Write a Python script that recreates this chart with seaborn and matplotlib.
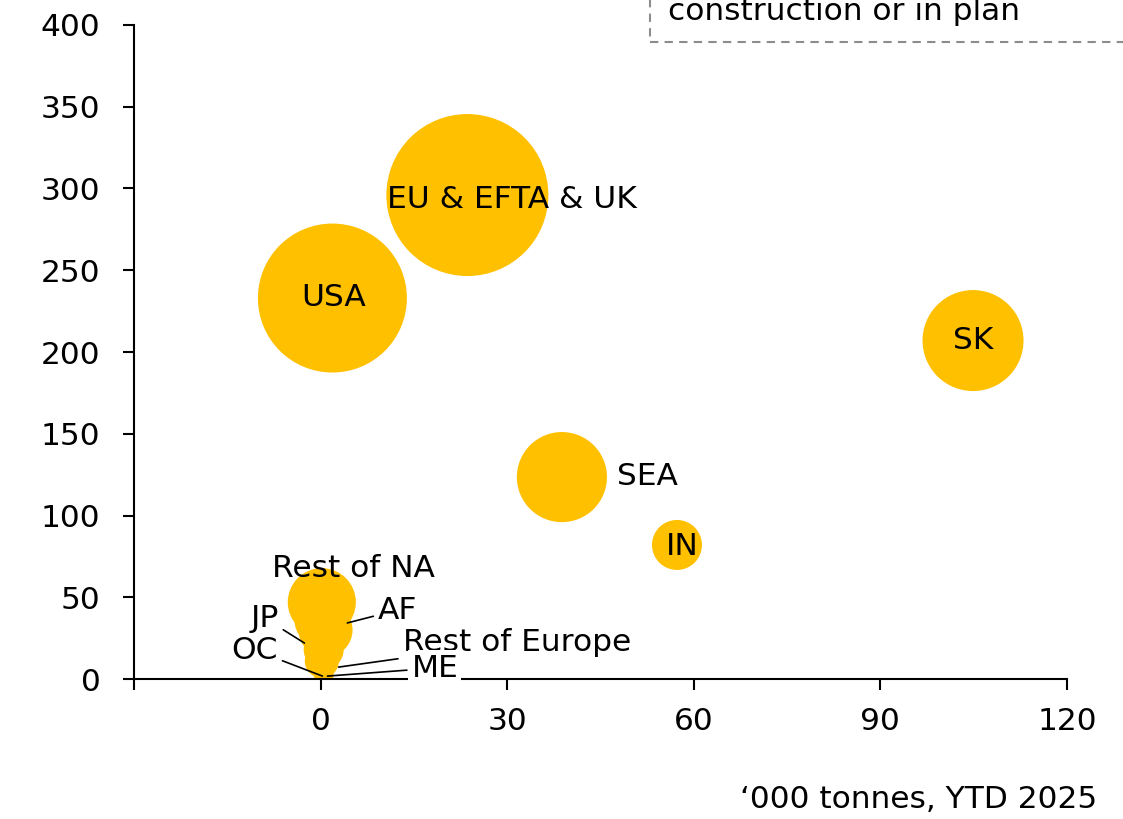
import pandas as pd
import matplotlib.pyplot as plt
from matplotlib.patches import Rectangle
import seaborn as sns

# bubble chart data: x = '000 tonnes YTD 2025, y = capacity, size = bubble weight
regions = ['EU & EFTA & UK', 'USA', 'SK', 'SEA', 'IN', 'Rest of NA',
           'JP', 'AF', 'Rest of Europe', 'OC', 'ME']
x_vals = [23.6, 1.9, 104.9, 38.8, 57.3, 0.2, 0.0, 0.8, 0.5, 0.2, 0.5]
y_vals = [296, 233, 207, 123.5, 82, 47, 36, 30, 18, 11, 3]
bubble = [65.6, 55.5, 25.5, 20.3, 6.25, 11.6, 6.8, 7.3, 4.0, 2.9, 1.0]

df = pd.DataFrame({'region': regions, 'x': x_vals, 'y': y_vals, 'size': bubble})

sns.set_style('ticks')
plt.rcParams['font.family'] = ['DejaVu Sans']
plt.rcParams['font.size'] = 22.5
plt.rcParams['text.color'] = 'black'
plt.rcParams['xtick.color'] = 'black'
plt.rcParams['ytick.color'] = 'black'

fig = plt.figure(figsize=(11.23, 8.19), dpi=100)
ax = fig.add_axes([0.1193, 0.1709, 0.8308, 0.7986])

smax = 207.36 * max(bubble)
sns.scatterplot(data=df, x='x', y='y', size='size', sizes=(0, smax),
                size_norm=(0, max(bubble)), color='#FFC000', edgecolor='none',
                alpha=1, legend=False, ax=ax, zorder=2)

ax.set_xlim(-30, 120)
ax.set_ylim(0, 400)
ax.set_xticks([-30, 0, 30, 60, 90, 120])
ax.set_xticklabels(['', '0', '30', '60', '90', '120'])
ax.set_yticks(range(0, 401, 50))
ax.set_xlabel('')
ax.set_ylabel('')
ax.tick_params(axis='both', labelsize=22.5, length=8, width=1.5, color='black',
               labelcolor='black')
ax.tick_params(axis='y', pad=16)
ax.tick_params(axis='x', pad=12)
for s in ['top', 'right']:
    ax.spines[s].set_visible(False)
for s in ['left', 'bottom']:
    ax.spines[s].set_linewidth(1.5)
    ax.spines[s].set_color('black')

# labels placed on / next to bubbles
ax.text(30.7, 293, 'EU & EFTA & UK', ha='center', va='center', zorder=3)
ax.text(2.1, 233.6, 'USA', ha='center', va='center', zorder=3)
ax.text(104.9, 207.3, 'SK', ha='center', va='center', zorder=3)
ax.text(47.6, 124, 'SEA', ha='left', va='center', zorder=3)
ax.text(58.2, 81.3, 'IN', ha='center', va='center', zorder=3)
ax.text(5.3, 67.9, 'Rest of NA', ha='center', va='center', zorder=3)

line = dict(arrowstyle='-', color='black', lw=1.2, shrinkA=1, shrinkB=0)
ax.annotate('JP', xy=(-2.6, 22), xytext=(-9.0, 37.3), ha='center', va='center',
            arrowprops=line, zorder=3)
ax.annotate('AF', xy=(4.3, 34.3), xytext=(12.4, 42.2), ha='center', va='center',
            arrowprops=line, zorder=3)
ax.annotate('OC', xy=(0.3, 1.8), xytext=(-10.6, 17.7), ha='center', va='center',
            arrowprops=line, zorder=3)
ax.annotate('Rest of Europe', xy=(2.9, 7.3), xytext=(13.2, 22.6), ha='left',
            va='center', arrowprops=line, zorder=3)
ax.annotate('ME', xy=(1.1, 1.8), xytext=(14.6, 6.7), ha='left', va='center',
            arrowprops=line, annotation_clip=False, zorder=3,
            bbox=dict(boxstyle='square,pad=0.1', fc='white', ec='none'))

fig.text(1097 / 1123, 1 - 800 / 819, '\u2018000 tonnes, YTD 2025',
         ha='right', va='center', fontsize=22.5)

# legend box cut off at the top right
fig.add_artist(Rectangle((650 / 1123, 1 - 42 / 819), 1, 1, transform=fig.transFigure,
                         fill=False, ec='#8c8c8c', lw=1.5, ls=(0, (4, 3)),
                         clip_on=False))
fig.text(668 / 1123, 1 - 12 / 819, 'construction or in plan', ha='left',
         va='center', fontsize=22.5)

fig.savefig('out.png', dpi=100)
